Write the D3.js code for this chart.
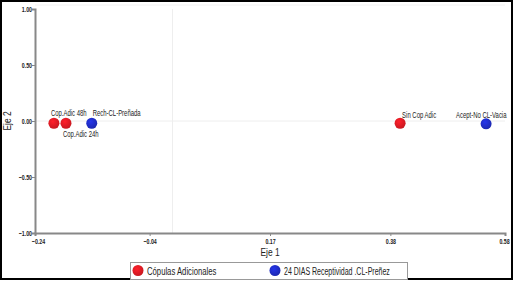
<!DOCTYPE html>
<html>
<head>
<meta charset="utf-8">
<style>
    body { margin: 0; background: #fff; }
    text { font-family: "Liberation Sans", Arial, sans-serif; }
    .tick text { font-size: 7.5px; font-weight: bold; fill: #222; }
    .lbl { font-size: 9px; fill: #222; }
</style>
</head>
<body>
<svg id="chart" width="514" height="281"></svg>
<script src="https://cdn.jsdelivr.net/npm/d3@7"></script>
<script>
    // points (Eje 1, Eje 2)
    let names = ["Cop.Adic 48h", "Cop.Adic 24h", "Rech-CL-Preñada", "Sin Cop Adic", "Acept-No CL-Vacia"]
    let eje1 = [-0.207, -0.186, -0.141, 0.397, 0.547]
    let eje2 = [-0.02, -0.02, -0.02, -0.02, -0.025]
    let group = [0, 0, 1, 0, 1]
    let groupNames = ["Cópulas Adicionales", "24 DIAS Receptividad .CL-Preñez"]
    let groupColors = ["#e01b24", "#1f2cc4"]
    let xTicks = [-0.24, -0.04, 0.17, 0.38, 0.58]
    let yTicks = [-1.00, -0.50, 0.00, 0.50, 1.00]

    let svg = d3.select("#chart")

    // squeeze text horizontally, the original uses a narrow font
    function condense(sel, k) {
        sel.each(function () {
            let w = this.getComputedTextLength()
            d3.select(this).attr("textLength", w * k).attr("lengthAdjust", "spacingAndGlyphs")
        })
    }

    // outer frame
    svg.append("rect").attr("x", 1).attr("y", 1).attr("width", 511).attr("height", 278)
        .attr("fill", "none").attr("stroke", "#000").attr("stroke-width", 2)

    let plotL = 35, plotR = 505, plotT = 9, plotB = 233
    let x = d3.scaleLinear().domain([-0.24, 0.58]).range([plotL, plotR])
    let y = d3.scaleLinear().domain([-1, 1]).range([plotB, plotT])

    // faint zero lines
    svg.append("line").attr("x1", x(0)).attr("x2", x(0)).attr("y1", plotT).attr("y2", plotB)
        .attr("stroke", "#eee")
    svg.append("line").attr("x1", plotL).attr("x2", plotR).attr("y1", y(0)).attr("y2", y(0))
        .attr("stroke", "#eee")
    svg.append("line").attr("x1", plotL).attr("x2", plotR).attr("y1", 5).attr("y2", 5)
        .attr("stroke", "#f2f2f2")

    // axes
    let xAxis = svg.append("g").attr("transform", "translate(0," + plotB + ")")
        .call(d3.axisBottom(x).tickValues(xTicks).tickFormat(d3.format(".2f")).tickSize(3))
    let yAxis = svg.append("g").attr("transform", "translate(" + plotL + ",0)")
        .call(d3.axisLeft(y).tickValues(yTicks).tickFormat(d3.format(".2f")).tickSize(3))
    ;[xAxis, yAxis].forEach(a => {
        a.select(".domain").attr("stroke", "#888").attr("stroke-width", 2)
        a.selectAll(".tick line").attr("stroke", "#888")
        condense(a.selectAll(".tick text"), 0.7)
    })
    xAxis.selectAll(".tick text").attr("dy", "0.6em")
    xAxis.selectAll(".tick text").filter(d => d === 0.58).attr("dx", -1)
    xAxis.selectAll(".tick text").filter(d => d === -0.24).attr("dx", 3)
    yAxis.selectAll(".tick text").attr("x", -3)

    svg.append("text").attr("x", x(0.17)).attr("y", 256).attr("text-anchor", "middle")
        .attr("font-size", 10.5).attr("fill", "#222").text("Eje 1")
        .call(condense, 0.8)
    svg.append("text").attr("transform", "translate(11," + y(0) + ") rotate(-90)")
        .attr("text-anchor", "middle").attr("font-size", 10.5).attr("fill", "#222").text("Eje 2")
        .call(condense, 0.8)

    // gradient fills
    let defs = svg.append("defs")
    groupColors.forEach((c, i) => {
        let g = defs.append("radialGradient").attr("id", "g" + i)
            .attr("cx", "40%").attr("cy", "35%").attr("r", "65%")
        g.append("stop").attr("offset", "0%").attr("stop-color", d3.color(c).brighter(0.5))
        g.append("stop").attr("offset", "100%").attr("stop-color", d3.color(c).darker(0.3))
    })

    let pts = names.map((n, i) => ({ name: n, x: eje1[i], y: eje2[i], g: group[i] }))
    svg.selectAll("circle.pt").data(pts).enter().append("circle")
        .attr("class", "pt")
        .attr("cx", d => x(d.x)).attr("cy", d => y(d.y)).attr("r", 5.5)
        .attr("fill", d => "url(#g" + d.g + ")")

    // label offsets relative to point
    let dx = [-3, -3, 1, 2, -30]
    let dy = [-7, 14, -7, -5, -6]
    svg.selectAll("text.lbl").data(pts).enter().append("text")
        .attr("class", "lbl")
        .attr("x", (d, i) => x(d.x) + dx[i]).attr("y", (d, i) => y(d.y) + dy[i])
        .text(d => d.name)
        .call(condense, 0.66)

    // legend
    let leg = svg.append("g")
    leg.append("rect").attr("x", 130.5).attr("y", 262.5).attr("width", 277).attr("height", 17)
        .attr("fill", "#fff").attr("stroke", "#999")
    let lx = [138, 275]
    let lk = [0.77, 0.7]
    groupNames.forEach((n, i) => {
        leg.append("circle").attr("cx", lx[i]).attr("cy", 270.5).attr("r", 5.5)
            .attr("fill", "url(#g" + i + ")")
        leg.append("text").attr("x", lx[i] + 9).attr("y", 274.5).attr("font-size", 10)
            .attr("fill", "#222").text(n)
            .call(condense, lk[i])
    })
</script>
</body>
</html>
